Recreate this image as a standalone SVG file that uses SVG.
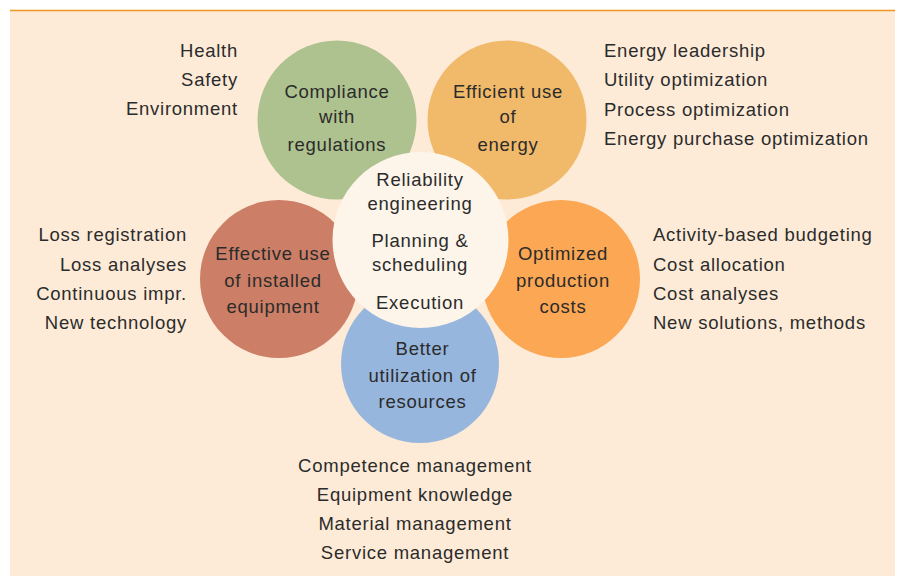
<svg xmlns="http://www.w3.org/2000/svg" width="899" height="576" viewBox="0 0 899 576">
<style>
text{font-family:"Liberation Sans",Arial,sans-serif;font-size:18.5px;letter-spacing:0.75px;fill:#2b2b2b}
.m{text-anchor:middle}
.e{text-anchor:end}
</style>
<rect x="0" y="0" width="899" height="576" fill="#ffffff"/>
<rect x="10" y="10" width="885" height="566" fill="#fdebd8"/>
<line x1="10" y1="10.5" x2="895" y2="10.5" stroke="#f0951f" stroke-width="1.5"/>
<g id="connectors"></g>
<g id="compliance">
<circle cx="337" cy="120" r="79.5" fill="#aec28f"/>
<text class="m" x="337" y="97.7">Compliance</text>
<text class="m" x="337" y="123.3">with</text>
<text class="m" x="337" y="150.5">regulations</text>
</g>
<g id="energy">
<circle cx="507" cy="120" r="79.5" fill="#f1ba6b"/>
<text class="m" x="508" y="97.7">Efficient use</text>
<text class="m" x="508" y="123.3">of</text>
<text class="m" x="508" y="150.5">energy</text>
</g>
<g id="equipment">
<circle cx="279" cy="279" r="79" fill="#cc7f66"/>
<text class="m" x="273" y="260">Effective use</text>
<text class="m" x="273" y="286.7">of installed</text>
<text class="m" x="273" y="312.7">equipment</text>
</g>
<g id="costs">
<circle cx="561" cy="279" r="79" fill="#fba753"/>
<text class="m" x="563" y="260">Optimized</text>
<text class="m" x="563" y="286.7">production</text>
<text class="m" x="563" y="313">costs</text>
</g>
<g id="resources">
<circle cx="420" cy="364" r="79" fill="#97b6dd"/>
<text class="m" x="422.5" y="355">Better</text>
<text class="m" x="422.5" y="381.7">utilization of</text>
<text class="m" x="422.5" y="407.7">resources</text>
</g>
<g id="center">
<circle cx="420.5" cy="240" r="88" fill="#fdf5ea"/>
<text class="m" x="420" y="186">Reliability</text>
<text class="m" x="420" y="209.5">engineering</text>
<text class="m" x="420" y="247.3">Planning &amp;</text>
<text class="m" x="420" y="270.7">scheduling</text>
<text class="m" x="420" y="309">Execution</text>
</g>
<g id="list-compliance">
<text class="e" x="238" y="56.7">Health</text>
<text class="e" x="238" y="86">Safety</text>
<text class="e" x="238" y="115">Environment</text>
</g>
<g id="list-energy">
<text x="604" y="56.7">Energy leadership</text>
<text x="604" y="86">Utility optimization</text>
<text x="604" y="115.5">Process optimization</text>
<text x="604" y="145">Energy purchase optimization</text>
</g>
<g id="list-equipment">
<text class="e" x="187" y="241">Loss registration</text>
<text class="e" x="187" y="270.7">Loss analyses</text>
<text class="e" x="187" y="300">Continuous impr.</text>
<text class="e" x="187" y="329">New technology</text>
</g>
<g id="list-costs">
<text x="653" y="241">Activity-based budgeting</text>
<text x="653" y="270.7">Cost allocation</text>
<text x="653" y="300">Cost analyses</text>
<text x="653" y="329">New solutions, methods</text>
</g>
<g id="list-resources">
<text class="m" x="415" y="471.7">Competence management</text>
<text class="m" x="415" y="500.7">Equipment knowledge</text>
<text class="m" x="415" y="530">Material management</text>
<text class="m" x="415" y="559">Service management</text>
</g>
</svg>
